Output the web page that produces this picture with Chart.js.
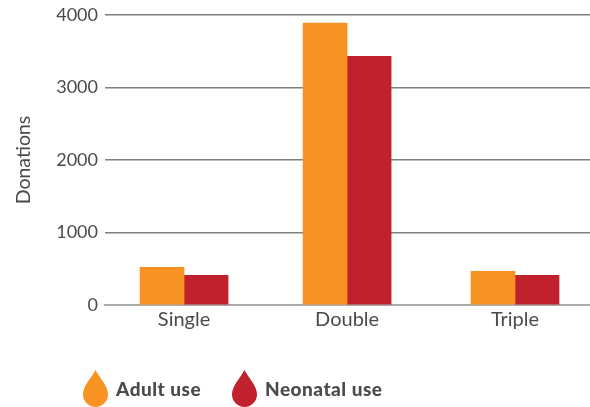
<!DOCTYPE html>
<html><head><meta charset="utf-8">
<style>html,body{margin:0;padding:0;background:#fff}#w{position:relative;width:590px;height:407px}canvas{position:absolute;left:0;top:0}</style>
<script src="https://cdn.jsdelivr.net/npm/chart.js@4"></script></head>
<body><div id="w"><canvas id="c" width="590" height="407"></canvas></div>
<script>
const categories=["Single","Double","Triple"];
const categoryPositions=[0,1,2.03];
const adultUse=[520,3890,465];
const neonatalUse=[410,3430,410];
const yTicks=[0,1000,2000,3000,4000];
const seriesNames=["Adult use","Neonatal use"];
const colours=["#F89222","#C1202D"];
const font="Lato, 'Open Sans', sans-serif";
const ink="#4a4a4c";
const toPoints=vals=>vals.map((v,i)=>({x:categoryPositions[i],y:v}));
function drop(ctx,cx,top,w,h,col){
  const r=w/2, cy=top+h-r;
  ctx.save();ctx.fillStyle=col;ctx.beginPath();
  ctx.moveTo(cx,top);
  ctx.bezierCurveTo(cx+r*0.3,top+h*0.2,cx+r,top+h*0.42,cx+r,cy);
  ctx.arc(cx,cy,r,0,Math.PI);
  ctx.bezierCurveTo(cx-r,top+h*0.42,cx-r*0.3,top+h*0.2,cx,top);
  ctx.closePath();ctx.fill();ctx.restore();
}
const legendPlugin={id:"dropLegend",afterDraw(chart){
  const ctx=chart.ctx;
  drop(ctx,95.5,370,25,37,colours[0]);
  drop(ctx,244.5,370,25,37,colours[1]);
  ctx.save();ctx.font="900 19px "+font;ctx.fillStyle=ink;ctx.textBaseline="alphabetic";
  ctx.letterSpacing="0.5px";
  ctx.fillText(seriesNames[0],116,396);ctx.fillText(seriesNames[1],265,396);ctx.restore();
}};
new Chart(document.getElementById("c"),{type:"bar",
 data:{datasets:[
  {label:seriesNames[0],data:toPoints(adultUse),backgroundColor:colours[0],barThickness:44},
  {label:seriesNames[1],data:toPoints(neonatalUse),backgroundColor:colours[1],barThickness:44}]},
 options:{responsive:false,animation:false,
  layout:{padding:{left:12,right:0,top:15,bottom:0}},
  plugins:{legend:{display:false},tooltip:{enabled:false}},
  scales:{
   x:{type:"linear",offset:false,min:-0.485,max:2.49,
    afterBuildTicks(a){a.ticks=categoryPositions.map(v=>({value:v}))},
    afterFit(a){a.height=102},
    grid:{display:false},border:{color:"#aaaaaa",width:2},
    ticks:{color:ink,font:{family:font,size:20},padding:-5,maxRotation:0,autoSkip:false,
      callback(v){return categories[categoryPositions.indexOf(v)]}}},
   y:{min:0,max:4000,afterBuildTicks(a){a.ticks=yTicks.map(v=>({value:v}))},
    grid:{color:c=>c.tick.value===0?"rgba(0,0,0,0)":"#7f7f7f",lineWidth:1.5,drawTicks:false},border:{display:false},
    ticks:{color:ink,font:{family:font,size:18,lineHeight:0.8},padding:7,callback:v=>String(v)},
    title:{display:true,text:"Donations",color:ink,font:{family:font,size:19.5},padding:0},
    afterFit(a){a.width=93}}
  }},
 plugins:[legendPlugin]
});
</script></body></html>
